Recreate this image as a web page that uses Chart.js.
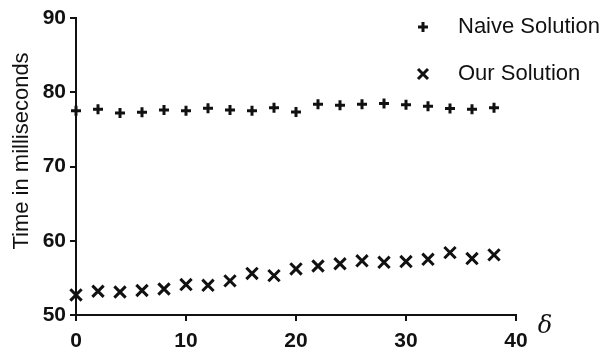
<!DOCTYPE html>
<html>
<head>
<meta charset="utf-8">
<script src="https://cdn.jsdelivr.net/npm/chart.js@4/dist/chart.umd.min.js"></script>
<style>
  body { margin: 0; background: #fff; }
  canvas { display: block; }
</style>
</head>
<body>
<canvas id="chart" width="609" height="352"></canvas>
<script>
// delta values on the x axis
const deltas = [0, 2, 4, 6, 8, 10, 12, 14, 16, 18, 20, 22, 24, 26, 28, 30, 32, 34, 36, 38];
// time in ms
const naiveTimes = [77.5, 77.7, 77.2, 77.3, 77.6, 77.5, 77.85, 77.6, 77.5, 77.9, 77.35, 78.4, 78.25, 78.4, 78.5, 78.3, 78.1, 77.8, 77.7, 77.9];
const ourTimes = [52.7, 53.2, 53.1, 53.3, 53.5, 54.1, 54.0, 54.6, 55.6, 55.3, 56.2, 56.6, 56.9, 57.3, 57.1, 57.2, 57.5, 58.4, 57.6, 58.1];
const seriesNames = ["Naive Solution", "Our Solution"];
const xTicks = [0, 10, 20, 30, 40];
const yTicks = [50, 60, 70, 80, 90];

const toPoints = (xs, ys) => xs.map((x, i) => ({ x: x, y: ys[i] }));

// legend, y title and the delta label
const extras = {
    id: "extras",
    afterDraw(chart) {
        const ctx = chart.ctx;
        const area = chart.chartArea;
        ctx.save();
        ctx.fillStyle = "#111";
        ctx.strokeStyle = "#111";

        // y axis title
        ctx.save();
        ctx.translate(22, 151);
        ctx.rotate(-Math.PI / 2);
        ctx.font = "22px 'Liberation Sans', Arial, sans-serif";
        ctx.textAlign = "center";
        ctx.textBaseline = "middle";
        ctx.fillText("Time in milliseconds", 0, 0);
        ctx.restore();

        // delta
        ctx.font = "italic 24px 'DejaVu Serif', 'Liberation Serif', serif";
        ctx.textAlign = "center";
        ctx.textBaseline = "middle";
        ctx.fillText("\u03b4", area.right + 29, area.bottom + 12);

        // legend
        ctx.font = "22px 'Liberation Sans', Arial, sans-serif";
        ctx.textAlign = "left";
        ctx.lineWidth = 3;
        const rows = [27, 74];
        chart.data.datasets.forEach((ds, i) => {
            const cx = area.right - 93, cy = rows[i];
            ctx.beginPath();
            if (ds.pointStyle === "cross") {
                ctx.moveTo(cx - 5, cy); ctx.lineTo(cx + 5, cy);
                ctx.moveTo(cx, cy - 5); ctx.lineTo(cx, cy + 5);
            } else {
                ctx.moveTo(cx - 5, cy - 5); ctx.lineTo(cx + 5, cy + 5);
                ctx.moveTo(cx + 5, cy - 5); ctx.lineTo(cx - 5, cy + 5);
            }
            ctx.stroke();
            ctx.fillText(ds.label, cx + 35, cy);
        });
        ctx.restore();
    }
};

new Chart(document.getElementById("chart"), {
    type: "scatter",
    data: {
        datasets: [
            {
                label: seriesNames[0],
                data: toPoints(deltas, naiveTimes),
                pointStyle: "cross",
                pointRadius: 5,
                pointBorderWidth: 3,
                borderColor: "#111",
                backgroundColor: "#111",
                clip: false
            },
            {
                label: seriesNames[1],
                data: toPoints(deltas, ourTimes),
                pointStyle: "crossRot",
                pointRadius: 8,
                pointBorderWidth: 3,
                borderColor: "#111",
                backgroundColor: "#111",
                clip: false
            }
        ]
    },
    options: {
        responsive: false,
        animation: false,
        layout: { padding: { top: 18, right: 93, left: 0, bottom: 0 } },
        plugins: {
            legend: { display: false },
            tooltip: { enabled: false }
        },
        scales: {
            x: {
                type: "linear",
                min: 0,
                max: 40,
                afterFit: s => { s.height = 37; },
                afterBuildTicks: s => { s.ticks = xTicks.map(v => ({ value: v })); },
                border: { color: "#111", width: 2 },
                grid: { drawOnChartArea: false, drawTicks: true, tickLength: 6, color: "#111", lineWidth: 2 },
                ticks: {
                    color: "#111",
                    padding: 8,
                    maxRotation: 0,
                    font: { family: "'Liberation Sans', Arial, sans-serif", size: 21, weight: "bold" }
                }
            },
            y: {
                min: 50,
                max: 90,
                afterFit: s => { s.width = 76; },
                afterBuildTicks: s => { s.ticks = yTicks.map(v => ({ value: v })); },
                border: { color: "#111", width: 2 },
                grid: { drawOnChartArea: false, drawTicks: true, tickLength: 6, color: "#111", lineWidth: 2 },
                ticks: {
                    color: "#111",
                    padding: 4,
                    font: { family: "'Liberation Sans', Arial, sans-serif", size: 21, weight: "bold" }
                }
            }
        }
    },
    plugins: [extras]
});
</script>
</body>
</html>
